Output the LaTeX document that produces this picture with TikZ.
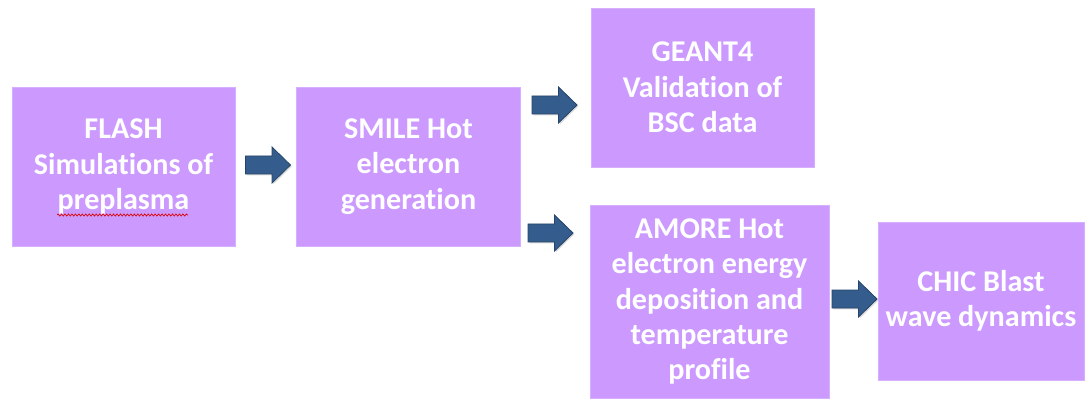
\documentclass[tikz,border=0pt]{standalone}
\usepackage{fontspec}
\setmainfont[Ligatures={NoCommon}]{Carlito}
\usetikzlibrary{shadows,decorations.pathmorphing}

\definecolor{boxfill}{RGB}{204,153,255}
\definecolor{boxline}{RGB}{214,176,255}
\definecolor{arrowfill}{RGB}{52,93,141}
\definecolor{arrowline}{RGB}{38,68,105}

\tikzset{
  stage/.style={rectangle, fill=boxfill, draw=boxline, line width=0.6pt,
    text=white, align=center, inner sep=0pt,
    font=\fontsize{22.6}{26.6}\selectfont\bfseries},
  blockarrow/.pic={
    \path[fill=arrowfill, draw=arrowline, line width=0.6pt,
      drop shadow={opacity=0.3, shadow xshift=1pt, shadow yshift=-1pt}]
      (-22.5,-9) -- (4,-9) -- (4,-18) -- (22.5,0) -- (4,18) -- (4,9)
      -- (-22.5,9) -- cycle;
  }
}

\begin{document}
\begin{tikzpicture}[x=0.75pt,y=-0.75pt]

\useasboundingbox (0,0) rectangle (1086,399);

% stages
\node[stage, minimum width=167.25pt, minimum height=119.25pt] (flash) at (123.5,166.5)
  {FLASH\\Simulations of\\preplasma};
\node[stage, minimum width=168pt, minimum height=119.25pt] (smile) at (408.5,166.5)
  {SMILE Hot\\electron\\generation};
\node[stage, minimum width=167.25pt, minimum height=119.25pt] (geant) at (702.5,87.5)
  {GEANT4\\Validation of\\BSC data};
\node[stage, minimum width=179.25pt, minimum height=144.75pt] (amore) at (709.5,301.5)
  {AMORE Hot\\electron energy\\deposition and\\temperature\\profile};
\node[stage, minimum width=154.5pt, minimum height=118.5pt] (chic) at (981,301)
  {CHIC Blast\\wave dynamics};

% spell-check underline
\draw[red!85!black, line width=0.5pt,
  decorate, decoration={snake, amplitude=0.8pt, segment length=2.6pt}]
  (57,215) -- (188,215);

% block arrows
\pic at (268,165) {blockarrow};
\pic at (554.5,105) {blockarrow};
\pic at (550.5,233) {blockarrow};
\pic at (854.5,299) {blockarrow};

\end{tikzpicture}
\end{document}
